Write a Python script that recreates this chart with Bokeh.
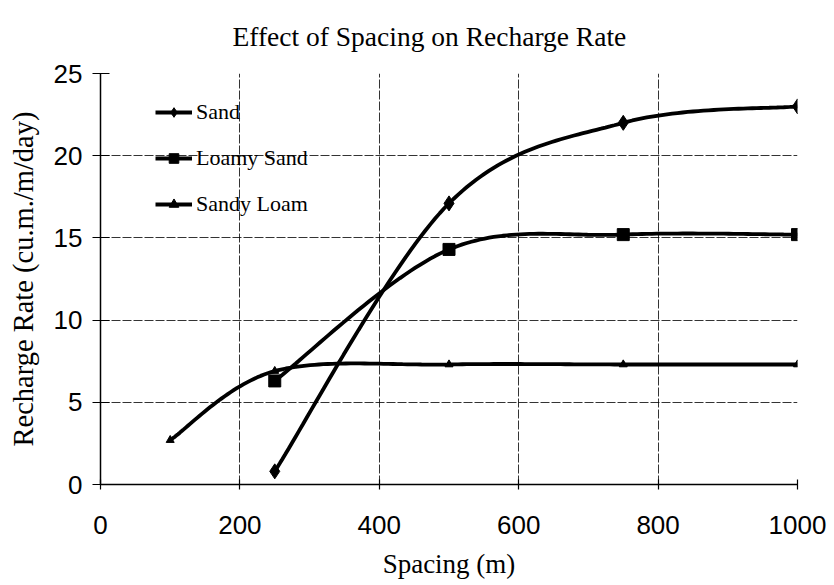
import numpy as np
from bokeh.plotting import figure
from bokeh.models import Range1d, FixedTicker, Legend, LegendItem
from bokeh.embed import file_html
from bokeh.resources import INLINE

# ---- data ----
sand_x = [250, 500, 750, 1000]
sand_y = [0.8, 17.1, 22.0, 23.0]
loamy_sand_x = [250, 500, 750, 1000]
loamy_sand_y = [6.3, 14.3, 15.2, 15.2]
sandy_loam_x = [100, 250, 500, 750, 1000]
sandy_loam_y = [2.7, 6.9, 7.3, 7.3, 7.3]
x_ticks = [0, 200, 400, 600, 800, 1000]
y_ticks = [0, 5, 10, 15, 20, 25]

FW, FH = 697, 411
XMAX, YMAX = 1000, 25


def smooth(xs, ys, n=40):
    """Excel-like smoothed line (Catmull-Rom Bezier in screen space)."""
    sx, sy = FW / XMAX, FH / YMAX
    P = np.array([[x * sx, y * sy] for x, y in zip(xs, ys)], dtype=float)
    out = []
    for i in range(len(P) - 1):
        p0 = P[i - 1] if i > 0 else P[i]
        p1, p2 = P[i], P[i + 1]
        p3 = P[i + 2] if i + 2 < len(P) else P[i + 1]
        c1 = p1 + (p2 - p0) / 6.0
        c2 = p2 - (p3 - p1) / 6.0
        t = np.linspace(0, 1, n)[:, None]
        seg = ((1 - t) ** 3) * p1 + 3 * ((1 - t) ** 2) * t * c1 + 3 * (1 - t) * t ** 2 * c2 + t ** 3 * p2
        if i > 0:
            seg = seg[1:]
        out.append(seg)
    out = np.vstack(out)
    return out[:, 0] / sx, out[:, 1] / sy


SERIF = "Liberation Serif"
SANS = "Liberation Sans"

p = figure(
    frame_width=FW, frame_height=FH,
    x_range=Range1d(0, XMAX), y_range=Range1d(0, YMAX),
    output_backend="svg", toolbar_location=None,
    min_border_left=100, min_border_right=36, min_border_top=73, min_border_bottom=100,
    background_fill_color="white", border_fill_color="white",
)
p.outline_line_color = None

p.title.text = "Effect of Spacing on Recharge Rate"
p.title.align = "left"
p.title.offset = 132
p.title.text_font = SERIF
p.title.text_font_style = "normal"
p.title.text_font_size = "27.5px"
p.title.text_color = "black"
p.title.vertical_align = "top"
p.title.standoff = 39

for ax in (p.xaxis[0], p.yaxis[0]):
    ax.axis_line_color = "black"
    ax.axis_line_width = 1.5
    ax.major_tick_line_color = "black"
    ax.major_tick_line_width = 1.2
    ax.minor_tick_line_color = None
    ax.major_label_text_font = SANS
    ax.major_label_text_font_size = "26px"
    ax.major_label_text_color = "black"
    ax.axis_label_text_font = SERIF
    ax.axis_label_text_font_style = "normal"
    ax.axis_label_text_color = "black"

p.xaxis.axis_label_text_font_size = "27px"
p.yaxis.axis_label_text_font_size = "28.5px"
p.xaxis.ticker = FixedTicker(ticks=x_ticks)
p.yaxis.ticker = FixedTicker(ticks=y_ticks)
p.xaxis.axis_label = "Spacing (m)"
p.yaxis.axis_label = "Recharge Rate (cu.m./m/day)"
p.xaxis.major_tick_in = 5
p.xaxis.major_tick_out = 5
p.yaxis.major_tick_in = 9
p.yaxis.major_tick_out = 8
p.xaxis.major_label_standoff = 26
p.yaxis.major_label_standoff = 10
p.xaxis.axis_label_standoff = 12
p.yaxis.axis_label_standoff = 12

for g in (p.xgrid[0], p.ygrid[0]):
    g.grid_line_color = "black"
    g.grid_line_width = 1
    g.grid_line_dash = "9 2"
    g.grid_line_alpha = 0.8

LW = 3.8
sx_, sy_ = smooth(sand_x, sand_y)
l1 = p.line(sx_, sy_, line_color="black", line_width=LW)
m1 = p.scatter(sand_x, sand_y, marker="diamond", size=15, color="black")

lx_, ly_ = smooth(loamy_sand_x, loamy_sand_y)
l2 = p.line(lx_, ly_, line_color="black", line_width=LW)
m2 = p.scatter(loamy_sand_x, loamy_sand_y, marker="square", size=12, color="black")

kx_, ky_ = smooth(sandy_loam_x, sandy_loam_y)
l3 = p.line(kx_, ky_, line_color="black", line_width=LW)
m3 = p.scatter(sandy_loam_x, sandy_loam_y, marker="triangle", size=8, color="black")

legend = Legend(
    items=[
        LegendItem(label="Sand", renderers=[l1, m1]),
        LegendItem(label="Loamy Sand", renderers=[l2, m2]),
        LegendItem(label="Sandy Loam", renderers=[l3, m3]),
    ],
    location=(55, 267),
    border_line_color=None,
    background_fill_alpha=0,
    label_text_font=SERIF,
    label_text_font_size="22px",
    label_text_color="black",
    glyph_width=37,
    glyph_height=24,
    label_height=24,
    spacing=20,
    label_standoff=4,
    padding=6,
)
p.add_layout(legend, "center")

open("out.html", "w").write(file_html(p, INLINE))
